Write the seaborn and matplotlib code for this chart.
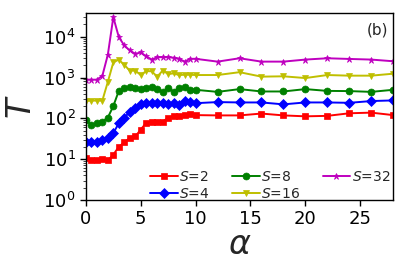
import numpy as np
import pandas as pd
import matplotlib
matplotlib.use("Agg")
import matplotlib.pyplot as plt
import seaborn as sns

alpha = [0, 0.5, 1, 1.5, 2, 2.5, 3, 3.5, 4, 4.5, 5, 5.5, 6, 6.5, 7, 7.5, 8, 8.5, 9, 9.5, 10,
         12, 14, 16, 18, 20, 22, 24, 26, 28]

T_s2 = [10.7, 9.7, 9.7, 10, 9.3, 12.9, 20, 26, 33, 36, 53, 78, 83, 81, 83, 104, 114, 114, 123, 130, 120,
        118, 118, 131, 118, 112, 115, 133, 138, 120]
T_s4 = [26, 26, 26, 29, 33, 44, 75, 104, 143, 183, 220, 235, 235, 235, 235, 225, 235, 210, 270, 245, 235,
        250, 245, 245, 220, 245, 245, 240, 265, 275]
T_s8 = [91, 70, 75, 83, 104, 200, 470, 550, 570, 540, 520, 550, 570, 520, 445, 540, 450, 550, 570, 500, 500,
        445, 520, 455, 455, 520, 470, 465, 445, 500]
T_s16 = [267, 272, 272, 272, 780, 2350, 2750, 2030, 1480, 1480, 1150, 1440, 1420, 1050, 1480, 1220, 1260, 1150, 1170, 1170, 1150,
         1150, 1350, 1050, 1070, 970, 1150, 1110, 1110, 1240]
T_s32 = [885, 885, 885, 1100, 3600, 30000, 9800, 6100, 4600, 3800, 4100, 3300, 2750, 3150, 3150, 3150, 3050, 2870, 2450, 2870, 2870,
         2450, 2960, 2450, 2450, 2750, 2960, 2850, 2750, 2500]

labels = ["$S$=2", "$S$=4", "$S$=8", "$S$=16", "$S$=32"]
series = [T_s2, T_s4, T_s8, T_s16, T_s32]

df = pd.DataFrame({
    "alpha": alpha * len(series),
    "T": sum(series, []),
    "S": sum([[lab] * len(alpha) for lab in labels], []),
})

sns.set_style("ticks")
plt.rcParams["font.family"] = ["DejaVu Sans"]
plt.rcParams["mathtext.fontset"] = "dejavusans"

fig = plt.figure(figsize=(4.07, 2.71), dpi=100)
ax = fig.add_axes([0.211, 0.262, 0.755, 0.690])

palette = dict(zip(labels, ["#ff0000", "#0000ff", "#008000", "#bfbf00", "#bf00bf"]))
markers = dict(zip(labels, ["s", "D", "o", "v", "*"]))

sns.lineplot(data=df, x="alpha", y="T", hue="S", style="S", markers=markers, dashes=False,
             palette=palette, hue_order=labels, style_order=labels, ax=ax,
             linewidth=1.4, markersize=5, markeredgewidth=0.5)

for ln in ax.get_lines():
    ln.set_markeredgecolor(ln.get_color())

ax.set_yscale("log")
ax.set_xlim(0, 28)
ax.set_ylim(1, 3.8e4)
ax.set_xticks([0, 5, 10, 15, 20, 25])
ax.set_yticks([1, 10, 100, 1000, 10000])
ax.tick_params(axis="both", which="major", labelsize=13, direction="out", length=4, width=1, colors="black")
ax.tick_params(axis="y", which="minor", direction="out", length=2, width=0.6)
for sp in ax.spines.values():
    sp.set_color("black")
    sp.set_linewidth(1.0)

ax.set_xlabel(r"$\alpha$", fontsize=24, labelpad=0)
ax.set_ylabel(r"$T$", fontsize=24, labelpad=4)
ax.text(0.985, 0.95, "(b)", transform=ax.transAxes, ha="right", va="top", fontsize=11)

leg = ax.legend(loc="lower center", bbox_to_anchor=(0.6, -0.05), ncol=3, frameon=False, fontsize=10,
                handlelength=2.0, handletextpad=0.1, columnspacing=1.6, labelspacing=0.25, borderaxespad=0.2)
for h in leg.legend_handles:
    h.set_markeredgecolor(h.get_color())

fig.savefig("out.png", dpi=100)
